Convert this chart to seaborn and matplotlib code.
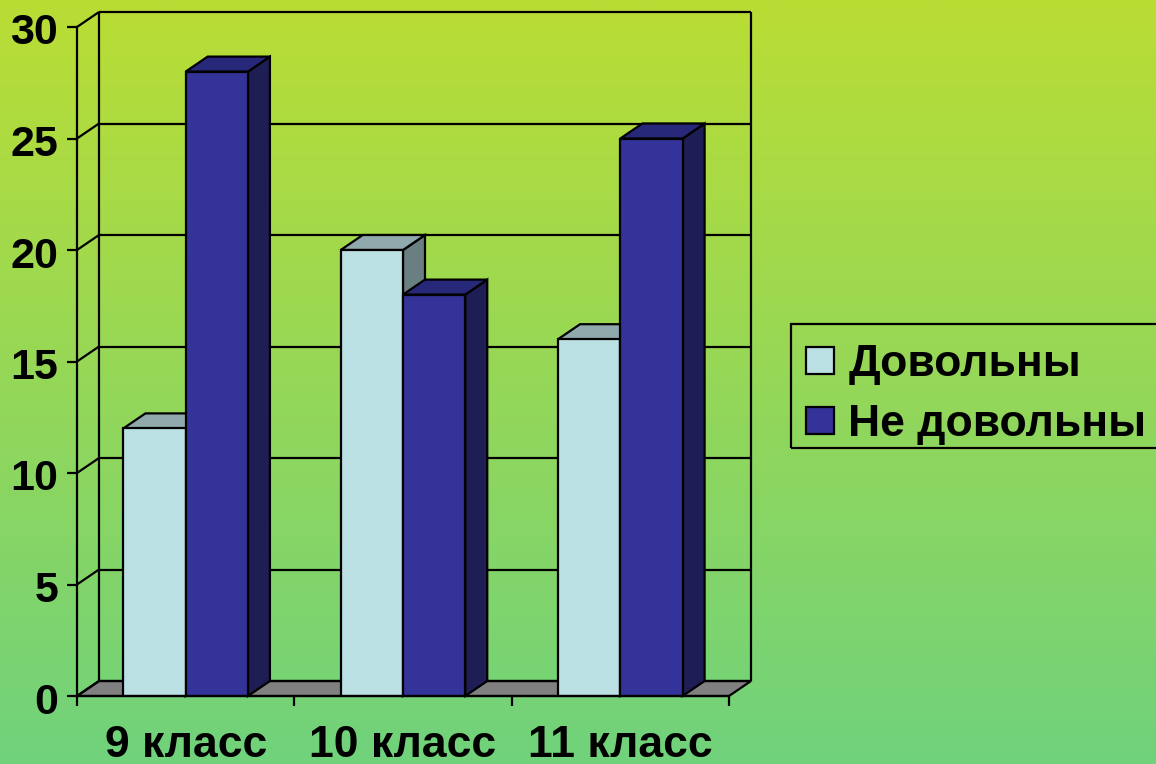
import numpy as np
import pandas as pd
import matplotlib
matplotlib.use("Agg")
import matplotlib.pyplot as plt
from matplotlib.patches import Polygon, Rectangle
from matplotlib.transforms import ScaledTranslation
import seaborn as sns

categories = ["9 класс", "10 класс", "11 класс"]
series_names = ["Довольны", "Не довольны"]
satisfied = [12, 20, 16]
unsatisfied = [28, 18, 25]
y_ticks = [0, 5, 10, 15, 20, 25, 30]

FRONT = {"Довольны": "#BBE0E4", "Не довольны": "#333399"}
SIDE = {"Довольны": "#6A7F82", "Не довольны": "#1E1E55"}
TOP = {"Довольны": "#8FA9AD", "Не довольны": "#28287A"}

sns.set_theme(style="white")
plt.rcParams["font.family"] = ["Liberation Sans", "DejaVu Sans"]
plt.rcParams["font.weight"] = "bold"

W, H = 1156, 764
fig = plt.figure(figsize=(W / 100, H / 100), dpi=100)

# vertical gradient background
bg = fig.add_axes([0, 0, 1, 1], zorder=0)
top_c = np.array([186, 221, 52]) / 255
bot_c = np.array([112, 210, 124]) / 255
t = np.linspace(0, 1, 256)[:, None, None]
bg.imshow(top_c[None, None, :] * (1 - t) + bot_c[None, None, :] * t, aspect="auto")
bg.axis("off")

ax = fig.add_axes([77 / W, 1 - 696 / H, (729 - 77) / W, (696 - 27) / H], zorder=1)
ax.patch.set_alpha(0)

df = pd.DataFrame({
    "cat": categories * 2,
    "group": [series_names[0]] * 3 + [series_names[1]] * 3,
    "value": satisfied + unsatisfied,
})
LW = 1.6
sns.barplot(data=df, x="cat", y="value", hue="group", hue_order=series_names,
            palette=FRONT, width=0.573, gap=0, saturation=1, dodge=True,
            edgecolor="black", linewidth=LW, ax=ax, legend=True)

ax.set_xlim(-0.5, 2.5)
ax.set_ylim(0, 30)
x0, x1 = ax.get_xlim()
# 3-D depth, expressed in data units (22 px right, 15 px up)
dx = 22 / ((729 - 77) / 3)
dy = 15 / ((696 - 27) / 30)

lk = dict(color="black", lw=LW, clip_on=False, solid_capstyle="butt")
# floor
ax.add_patch(Polygon([(x0, 0), (x1, 0), (x1 + dx, dy), (x0 + dx, dy)],
                     closed=True, fc="#808080", ec="black", lw=LW, clip_on=False, zorder=1))
# back wall grid and left-wall diagonals
for v in y_ticks:
    ax.plot([x0 + dx, x1 + dx], [v + dy, v + dy], zorder=1.5, **lk)
    ax.plot([x0, x0 + dx], [v, v + dy], zorder=1.5, **lk)
ax.plot([x0 + dx, x0 + dx], [dy, 30 + dy], zorder=1.5, **lk)
ax.plot([x1 + dx, x1 + dx], [dy, 30 + dy], zorder=1.5, **lk)

# bars: extrude sides and tops from seaborn's own patches
bars = []
for name, cont in zip(series_names, ax.containers):
    for b in cont:
        bars.append((b.get_x(), b, name))
bars.sort(key=lambda r: r[0])
z = 3
for left, b, name in bars:
    right = left + b.get_width()
    h = b.get_height()
    ax.add_patch(Polygon([(right, 0), (right + dx, dy), (right + dx, h + dy), (right, h)],
                         closed=True, fc=SIDE[name], ec="black", lw=LW, clip_on=False, zorder=z))
    ax.add_patch(Polygon([(left, h), (right, h), (right + dx, h + dy), (left + dx, h + dy)],
                         closed=True, fc=TOP[name], ec="black", lw=LW, clip_on=False, zorder=z))
    b.set_zorder(z + 0.5)
    z += 1

for s in ["top", "right"]:
    ax.spines[s].set_visible(False)
for s in ["left", "bottom"]:
    ax.spines[s].set_linewidth(LW)
    ax.spines[s].set_color("black")
    ax.spines[s].set_zorder(20)

ax.set_xlabel("")
ax.set_ylabel("")
ax.set_yticks(y_ticks)
ax.set_xticks(range(3))
ax.set_xticklabels(categories)
ax.set_xticks([-0.5, 0.5, 1.5, 2.5], minor=True)
ax.tick_params(axis="y", which="major", left=True, length=7.5, width=LW, color="black",
               labelsize=31, pad=6, labelcolor="black")
ax.tick_params(axis="x", which="major", bottom=False, length=0, labelsize=32, pad=21, labelcolor="black")
ax.tick_params(axis="x", which="minor", bottom=True, length=7, width=LW, color="black")
for lab in ax.get_xticklabels() + ax.get_yticklabels():
    lab.set_fontweight("bold")
shift = ScaledTranslation(0, -2 / 100, fig.dpi_scale_trans)
for lab in ax.get_yticklabels():
    lab.set_transform(lab.get_transform() + shift)

handles, labels = ax.get_legend_handles_labels()
leg = ax.legend(handles, labels, loc="upper left",
                bbox_to_anchor=(791 / W, 1 - 329 / H), bbox_transform=fig.transFigure,
                frameon=False,
                fontsize=32, handlelength=0.63, handleheight=0.58, handletextpad=0.32,
                borderpad=0.34, labelspacing=0.43, borderaxespad=0)
for tx in leg.get_texts():
    tx.set_fontweight("bold")
    tx.set_color("black")
# legend box: runs off the right edge of the figure
ax.add_patch(Rectangle((791 / W, 1 - 448 / H), 400 / W, 124 / H, transform=fig.transFigure,
                       fill=False, ec="black", lw=LW, clip_on=False, zorder=25))

fig.savefig("out.png", dpi=100)
